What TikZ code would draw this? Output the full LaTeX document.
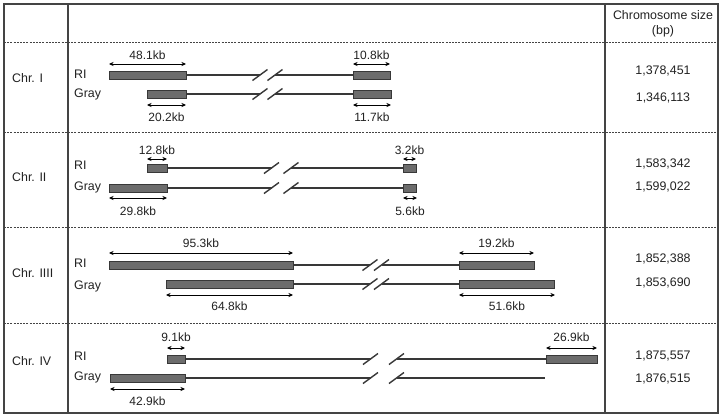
\documentclass[tikz,border=0pt]{standalone}
\usepackage{fontspec}
\setmainfont{Liberation Sans}
\usetikzlibrary{arrows.meta}
\definecolor{txt}{HTML}{222222}
\definecolor{barfill}{HTML}{6C6C6C}
\definecolor{linedark}{HTML}{383838}
\definecolor{frame}{HTML}{444444}
\tikzset{
  lbl/.style={inner sep=0pt, text=txt, font=\fontsize{12.4}{14}\selectfont, text height=8.9pt, text depth=0pt},
  kb/.style={lbl, font=\fontsize{12}{14}\selectfont},
  bar/.style={draw=linedark, fill=barfill, line width=0.9pt},
  chrline/.style={draw=linedark, line width=1.8pt},
  slash/.style={draw=linedark, line width=1.4pt},
  dimarrow/.style={draw=black, line width=0.75pt, {Stealth[length=4.6pt,width=4.2pt]}-{Stealth[length=4.6pt,width=4.2pt]}},
  tframe/.style={draw=frame, line width=1.4pt},
  tdash/.style={draw=frame, line width=0.8pt, dash pattern=on 2pt off 1.2pt},
}
\newcommand{\dimarr}[6]{%
  \coordinate (#1a) at (#2,#4);
  \coordinate (#1b) at (#3,#4);
  \draw[dimarrow] (#1a) -- (#1b);
  \node[kb] (#1l) at ({(#2+#3)/2},#5) {#6};
}
\newcommand{\chrbar}[4]{% name x1 x2 y
  \coordinate (#1w) at (#2,#4);
  \coordinate (#1e) at (#3,#4);
  \draw[bar] (#2,#4-4) rectangle (#3,#4+4);
}
\newcommand{\brkmark}[3]{% x1 x2 y
  \coordinate (bk1) at (#1,#3);
  \coordinate (bk2) at (#2,#3);
  \draw[slash] (#1-7.5,#3+5.5) -- (#1+7.5,#3-5.5);
  \draw[slash] (#2-7.5,#3+5.5) -- (#2+7.5,#3-5.5);
}
\begin{document}
\begin{tikzpicture}[x=1pt,y=-1pt]
\useasboundingbox (0,0) rectangle (724,418);
\fill[white] (0,0) rectangle (724,418);
% table
\draw[tframe] (4,4) rectangle (718,413);
\draw[tframe] (68,4) -- (68,413);
\draw[tframe] (605,4) -- (605,413);
\foreach \yy in {42,132,227,323} \draw[tdash] (4,\yy) -- (718,\yy);
% header
\node[lbl] (h1) at (663,15) {Chromosome size};
\node[lbl] (h2) at (663,30) {(bp)};

% ===== Chr. I =====
\node[lbl, anchor=west] (c1) at (12,78) {Chr. I};
\node[lbl, anchor=west] (c1r) at (74,74) {RI};
\node[lbl, anchor=west] (c1g) at (74,93) {Gray};
\draw[chrline] (186,75) -- (260,75);
\draw[chrline] (275,75) -- (353,75);
\draw[chrline] (186,94) -- (260,94);
\draw[chrline] (275,94) -- (353,94);
\chrbar{b1a}{109}{186}{75}
\chrbar{b1b}{353}{390}{75}
\chrbar{b1c}{147}{186}{94}
\chrbar{b1d}{353}{391}{94}
\brkmark{260}{275}{75}
\brkmark{260}{275}{94}
\dimarr{d1a}{109}{186}{64}{55}{48.1kb}
\dimarr{d1b}{353}{390}{64}{55}{10.8kb}
\dimarr{d1c}{147}{186}{105}{117}{20.2kb}
\dimarr{d1d}{353}{391}{105}{117}{11.7kb}
\node[lbl] (s1a) at (663,70) {1,378,451};
\node[lbl] (s1b) at (663,97) {1,346,113};

% ===== Chr. II =====
\node[lbl, anchor=west] (c2) at (12,177) {Chr. II};
\node[lbl, anchor=west] (c2r) at (74,165) {RI};
\node[lbl, anchor=west] (c2g) at (74,186) {Gray};
\draw[chrline] (167,168) -- (271.5,168);
\draw[chrline] (291,168) -- (403,168);
\draw[chrline] (167,188) -- (271.5,188);
\draw[chrline] (291,188) -- (403,188);
\chrbar{b2a}{147}{167}{168}
\chrbar{b2b}{403}{416}{168}
\chrbar{b2c}{109}{167}{188}
\chrbar{b2d}{403}{416}{188}
\brkmark{271.5}{291}{168}
\brkmark{271.5}{291}{188}
\dimarr{d2a}{147}{167}{159}{150}{12.8kb}
\dimarr{d2b}{403}{416}{159}{150}{3.2kb}
\dimarr{d2c}{109}{167}{198}{211}{29.8kb}
\dimarr{d2d}{403}{417}{198}{211}{5.6kb}
\node[lbl] (s2a) at (663,163) {1,583,342};
\node[lbl] (s2b) at (663,186) {1,599,022};

% ===== Chr. IIII =====
\node[lbl, anchor=west] (c3) at (12,273) {Chr. IIII};
\node[lbl, anchor=west] (c3r) at (74,263) {RI};
\node[lbl, anchor=west] (c3g) at (74,285) {Gray};
\draw[chrline] (293,265) -- (370,265);
\draw[chrline] (381.5,265) -- (459,265);
\draw[chrline] (293,284) -- (370,284);
\draw[chrline] (381.5,284) -- (459,284);
\chrbar{b3a}{109}{293}{265}
\chrbar{b3b}{459}{534}{265}
\chrbar{b3c}{166}{293}{284}
\chrbar{b3d}{459}{554}{284}
\brkmark{370}{381.5}{265}
\brkmark{370}{381.5}{284}
\dimarr{d3a}{109}{293}{253}{243}{95.3kb}
\dimarr{d3b}{459}{534}{253}{243}{19.2kb}
\dimarr{d3c}{166}{293}{295}{306}{64.8kb}
\dimarr{d3d}{459}{555}{295}{306}{51.6kb}
\node[lbl] (s3a) at (663,258) {1,852,388};
\node[lbl] (s3b) at (663,282) {1,853,690};

% ===== Chr. IV =====
\node[lbl, anchor=west] (c4) at (12,361) {Chr. IV};
\node[lbl, anchor=west] (c4r) at (74,356) {RI};
\node[lbl, anchor=west] (c4g) at (74,376) {Gray};
\draw[chrline] (185,359) -- (370.5,359);
\draw[chrline] (396.5,359) -- (546,359);
\draw[chrline] (185,378) -- (370.5,378);
\draw[chrline] (396.5,378) -- (545,378);
\chrbar{b4a}{167}{185}{359}
\chrbar{b4b}{546}{597}{359}
\chrbar{b4c}{110}{185}{378}
\brkmark{370.5}{396.5}{359}
\brkmark{370.5}{396.5}{378}
\dimarr{d4a}{167}{185}{348}{337}{9.1kb}
\dimarr{d4b}{546}{597}{348}{337}{26.9kb}
\dimarr{d4c}{110}{185}{389}{401}{42.9kb}
\node[lbl] (s4a) at (663,355) {1,875,557};
\node[lbl] (s4b) at (663,378) {1,876,515};
\end{tikzpicture}
\end{document}
